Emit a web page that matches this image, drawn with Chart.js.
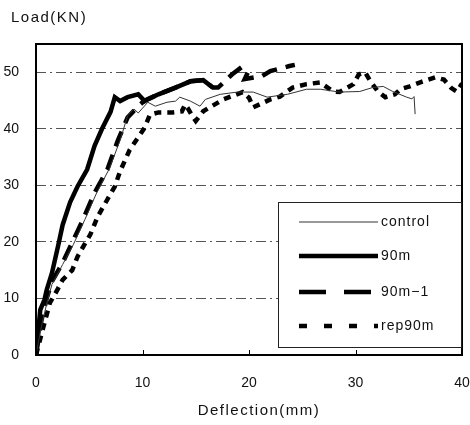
<!DOCTYPE html>
<html>
<head>
<meta charset="utf-8">
<script src="https://cdn.jsdelivr.net/npm/chart.js@4.4.0/dist/chart.umd.min.js"></script>
<style>
  body { margin: 0; background: #fff; }
  canvas { display: block; }
</style>
</head>
<body>
<canvas id="myChart" width="470" height="425"></canvas>
<script>
// values (deflection mm, load kN)
var controlX = [0, 0.5, 1, 1.5, 2.5, 3.5, 4.6, 5.7, 6.9, 7.9, 8.6, 9.2, 9.6, 10.5, 11.2, 12.3, 13.1, 13.5, 14.5, 15.4, 15.9, 17.3, 18.9, 20.4, 21.7, 23.6, 25.4, 26.7, 28.5, 30.4, 31.6, 32.6, 33.5, 34.8, 35.3, 35.5, 35.6];
var controlY = [0, 5, 9, 12.5, 16, 19.5, 24, 28.7, 33, 38, 42.3, 43.5, 42.8, 44.7, 44, 44.7, 44.9, 45.6, 44.9, 44, 45.2, 46.1, 46.5, 46.5, 45.6, 46.1, 47, 47, 46.5, 46.6, 47.3, 47.5, 46.6, 45.6, 45.3, 45.7, 42.6];

var m90X = [0, 0.2, 0.4, 0.8, 1.0, 1.5, 2.1, 2.5, 3.2, 3.9, 4.8, 5.5, 6.2, 7.0, 7.4, 7.9, 8.6, 9.6, 10.2, 10.6, 11.5, 13.1, 14.5, 15.7, 16.6];
var m90Y = [0, 4, 8, 9.8, 11.5, 14.5, 19.5, 23, 27, 29.8, 32.8, 37, 40, 43, 45.6, 44.9, 45.6, 46.1, 44.9, 45.3, 46.1, 47.3, 48.4, 48.6, 47.3];

var m90_1X = [0, 0.5, 1.0, 1.5, 2.5, 3.2, 4.4, 5.5, 6.7, 7.7, 8.6, 9.6, 10.2, 11.5, 13.1, 14.5, 15.7, 16.6, 17.1, 18.4, 19.3, 19.9, 19.6, 21.2, 22, 23.8, 24.3];
var m90_1Y = [0, 6, 10, 13, 16.3, 19.1, 23.9, 28.7, 32.8, 38, 42, 44, 45, 46.1, 47.3, 48.4, 48.6, 47.3, 47.3, 49.6, 50.9, 50, 48.8, 49.3, 50.2, 51.1, 51.3];

var rep90mX = [0, 0.7, 1.3, 2, 2.5, 3.4, 3.9, 4.6, 5.1, 5.8, 6.7, 7.4, 7.9, 8.8, 9.6, 10.2, 10.7, 11.5, 12.8, 13.7, 14, 14.3, 14.7, 15, 15.7, 16.5, 17.6, 19.4, 20, 20.4, 21.2, 22, 22.9, 24.1, 25.4, 26.7, 27.9, 28.5, 29.8, 30.3, 30.9, 31.4, 32.1, 32.8, 33.7, 34.2, 35.1, 36.2, 37.5, 38.3, 39, 39.5, 40];
var rep90mY = [0, 5, 9.2, 11.5, 13.3, 15, 17.4, 19.7, 21.3, 24.5, 27.5, 29.8, 32.5, 36.3, 38.5, 40.2, 42.5, 42.9, 42.9, 43.1, 44.3, 43.5, 42.2, 41.4, 43.1, 44, 45.2, 46.5, 45.5, 43.8, 44.5, 45.2, 45.7, 47.3, 47.9, 48.2, 46.6, 46.5, 47.9, 49.6, 50, 48.4, 46.6, 45.6, 46.1, 47, 47.5, 48.3, 49.1, 48.7, 47.2, 46.6, 48];

var seriesNames = ["control", "90m", "90m\u22121", "rep90m"];
var xTicks = [0, 10, 20, 30, 40];
var yTicks = [0, 10, 20, 30, 40, 50];

function pts(xs, ys) {
  return xs.map(function (x, i) { return { x: x, y: ys[i] }; });
}

var FONT = '"Liberation Sans", Arial, sans-serif';

var data = {
  datasets: [
    { label: seriesNames[0], data: pts(controlX, controlY), borderColor: "#333", borderWidth: 1, legendDash: [] },
    { label: seriesNames[1], data: pts(m90X, m90Y), borderColor: "#000", borderWidth: 4.5, legendDash: [] },
    { label: seriesNames[2], data: pts(m90_1X, m90_1Y), borderColor: "#000", borderWidth: 4.5, borderDash: [16, 9], legendDash: [27, 18] },
    { label: seriesNames[3], data: pts(rep90mX, rep90mY), borderColor: "#000", borderWidth: 4.5, borderDash: [7, 6], legendDash: [8, 17] },
  ],
};
data.datasets.forEach(function (d) {
  d.showLine = true;
  d.pointRadius = 0;
  d.tension = 0;
  d.fill = false;
  if (!d.borderDash) d.borderDash = [];
});

// frame, inner ticks, axis titles and the boxed legend
var extras = {
  id: "extras",
  afterDraw: function (chart) {
    var ctx = chart.ctx;
    var a = chart.chartArea;
    var xs = chart.scales.x;
    ctx.save();
    ctx.strokeStyle = "#000";
    ctx.lineWidth = 2;
    ctx.setLineDash([]);
    ctx.strokeRect(a.left, a.top, a.right - a.left, a.bottom - a.top);

    ctx.lineWidth = 1;
    [10, 20, 30].forEach(function (v) {
      var px = Math.round(xs.getPixelForValue(v)) + 0.5;
      ctx.beginPath();
      ctx.moveTo(px, a.bottom);
      ctx.lineTo(px, a.bottom - 5);
      ctx.stroke();
    });

    ctx.fillStyle = "#111";
    ctx.font = "15px " + FONT;
    ctx.letterSpacing = "1.5px";
    ctx.textBaseline = "middle";
    ctx.textAlign = "left";
    ctx.fillText("Load(KN)", 11, 18);
    ctx.textAlign = "center";
    ctx.fillText("Deflection(mm)", 259, 411);

    // legend
    var lx = 278, ly = 202, lw = 183, lh = 145;
    ctx.fillStyle = "#fff";
    ctx.fillRect(lx, ly, lw, lh);
    ctx.strokeStyle = "#222";
    ctx.lineWidth = 1;
    ctx.strokeRect(lx + 0.5, ly + 0.5, lw, lh);
    var rows = [222, 256, 292, 326];
    chart.data.datasets.forEach(function (d, i) {
      var y = rows[i];
      ctx.strokeStyle = d.borderColor;
      ctx.lineWidth = d.borderWidth;
      ctx.setLineDash(d.legendDash);
      ctx.beginPath();
      ctx.moveTo(299, y);
      ctx.lineTo(378, y);
      ctx.stroke();
      ctx.setLineDash([]);
      ctx.fillStyle = "#111";
      ctx.font = "14px " + FONT;
      ctx.letterSpacing = "1px";
      ctx.textAlign = "left";
      ctx.fillText(d.label, 381, y);
    });
    ctx.restore();
  },
};

var config = {
  type: "scatter",
  data: data,
  options: {
    responsive: false,
    animation: false,
    devicePixelRatio: 1,
    layout: { padding: { top: 44, right: 8, left: 0, bottom: 0 } },
    plugins: { legend: { display: false }, tooltip: { enabled: false } },
    scales: {
      x: {
        type: "linear",
        min: 0,
        max: 40,
        afterBuildTicks: function (s) { s.ticks = xTicks.map(function (v) { return { value: v }; }); },
        afterFit: function (s) {
          s.height = 70;
          s.paddingLeft = 0;
          s.paddingRight = 0;
        },
        ticks: { color: "#111", font: { size: 14, family: FONT }, padding: 20, maxRotation: 0 },
        grid: { display: false, drawTicks: false },
        border: { display: false },
      },
      y: {
        min: 0,
        max: 55,
        afterBuildTicks: function (s) { s.ticks = yTicks.map(function (v) { return { value: v }; }); },
        afterFit: function (s) {
          s.width = 36;
          s.paddingTop = 0;
          s.paddingBottom = 0;
        },
        ticks: { color: "#111", font: { size: 14, family: FONT }, padding: 17 },
        grid: { color: "#555", lineWidth: 1, drawTicks: false },
        border: { display: false, dash: [10, 4, 2, 4] },
      },
    },
  },
  plugins: [extras],
};

var myChart = new Chart(document.getElementById("myChart"), config);
</script>
</body>
</html>
